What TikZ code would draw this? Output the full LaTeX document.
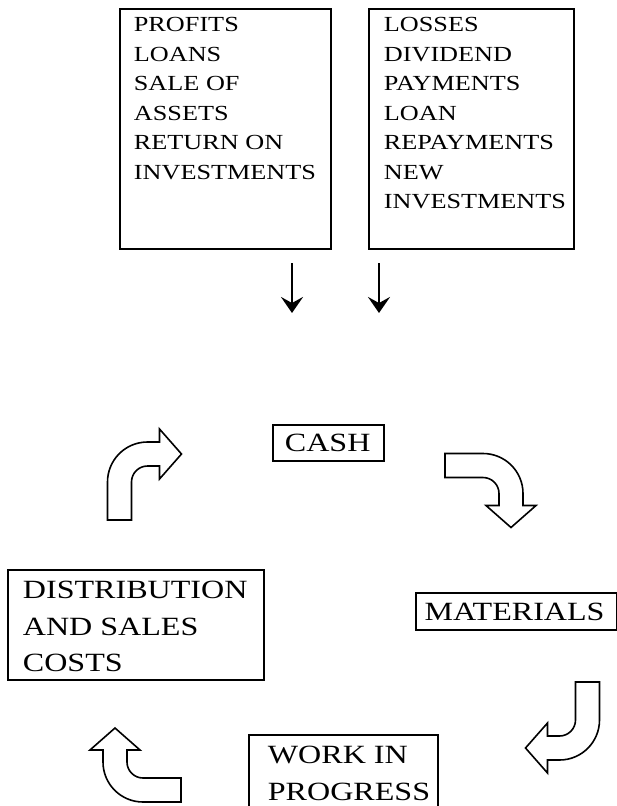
\documentclass[tikz,border=0pt]{standalone}
\usepackage{fontspec}
\setmainfont{Liberation Serif}[FakeStretch=1.22]
\usetikzlibrary{arrows.meta}
\newcommand{\smalltext}{\fontsize{21.5pt}{29.5pt}\selectfont}
\newcommand{\bigtext}{\fontsize{26.3pt}{36.5pt}\selectfont}
\newcommand{\boxlines}[3]{\parbox[t][#1][t]{#2}{\raggedright #3}}
\tikzset{%
  % Specifications for style of nodes:
      panel/.style = {rectangle, draw=black, line width=1.8pt,
                      anchor=north west, font=\smalltext},
   bigpanel/.style = {panel, font=\bigtext},
     inflow/.style = {line width=2.4pt,
                      -{Stealth[length=16pt, width=22pt, inset=6pt]}},
  % block arrow that goes up and turns right
       turn/.pic = {
    \draw[line width=1.6pt, fill=white]
      (-12,0) -- (-12,38) arc[start angle=180, end angle=90, radius=40pt]
      -- (40,78) -- (40,91) -- (62,66) -- (40,41) -- (40,54) -- (28,54)
      arc[start angle=90, end angle=180, radius=16pt] -- (12,0) -- cycle;
  },
}
\begin{document}
\begin{tikzpicture}[x=1pt, y=1pt]
  \useasboundingbox (0,0) rectangle (617,-806);
  \node (sources)   [panel, inner xsep=14pt, inner ysep=8.5pt] at (119,-8)
        {\boxlines{223pt}{183pt}{PROFITS\\LOANS\\SALE OF\\ASSETS\\RETURN ON\\INVESTMENTS}};
  \node (uses)      [panel, inner xsep=15pt, inner ysep=8.5pt] at (368,-8)
        {\boxlines{223pt}{175pt}{LOSSES\\DIVIDEND\\PAYMENTS\\LOAN\\REPAYMENTS\\NEW\\INVESTMENTS}};
  \node (cash)      [bigpanel, inner xsep=12pt, inner ysep=9.3pt] at (272,-424)
        {\boxlines{17.4pt}{87pt}{CASH}};
  \node (materials) [bigpanel, inner xsep=8.6pt, inner ysep=9.8pt] at (415,-592)
        {\boxlines{17.4pt}{184pt}{MATERIALS}};
  \node (costs)     [bigpanel, inner xsep=15pt, inner ysep=11.6pt] at (7,-569)
        {\boxlines{86.8pt}{226pt}{DISTRIBUTION\\AND SALES\\COSTS}};
  \node (wip)       [bigpanel, inner xsep=19pt, inner ysep=11.6pt] at (248,-734)
        {\boxlines{80pt}{151pt}{WORK IN\\PROGRESS}};

  \coordinate (inA)    at (292,-263);
  \coordinate (inAend) at (292,-313);
  \coordinate (inB)    at (379,-263);
  \coordinate (inBend) at (379,-313);
  \draw[inflow] (inA) -- (inAend);
  \draw[inflow] (inB) -- (inBend);

  \pic[rotate=0]   at (119.5,-520) {turn};
  \pic[rotate=-90] at (445,-465.5) {turn};
  \pic[rotate=180] at (587.5,-682) {turn};
  \pic[rotate=90]  at (181,-790)   {turn};
\end{tikzpicture}
\end{document}
